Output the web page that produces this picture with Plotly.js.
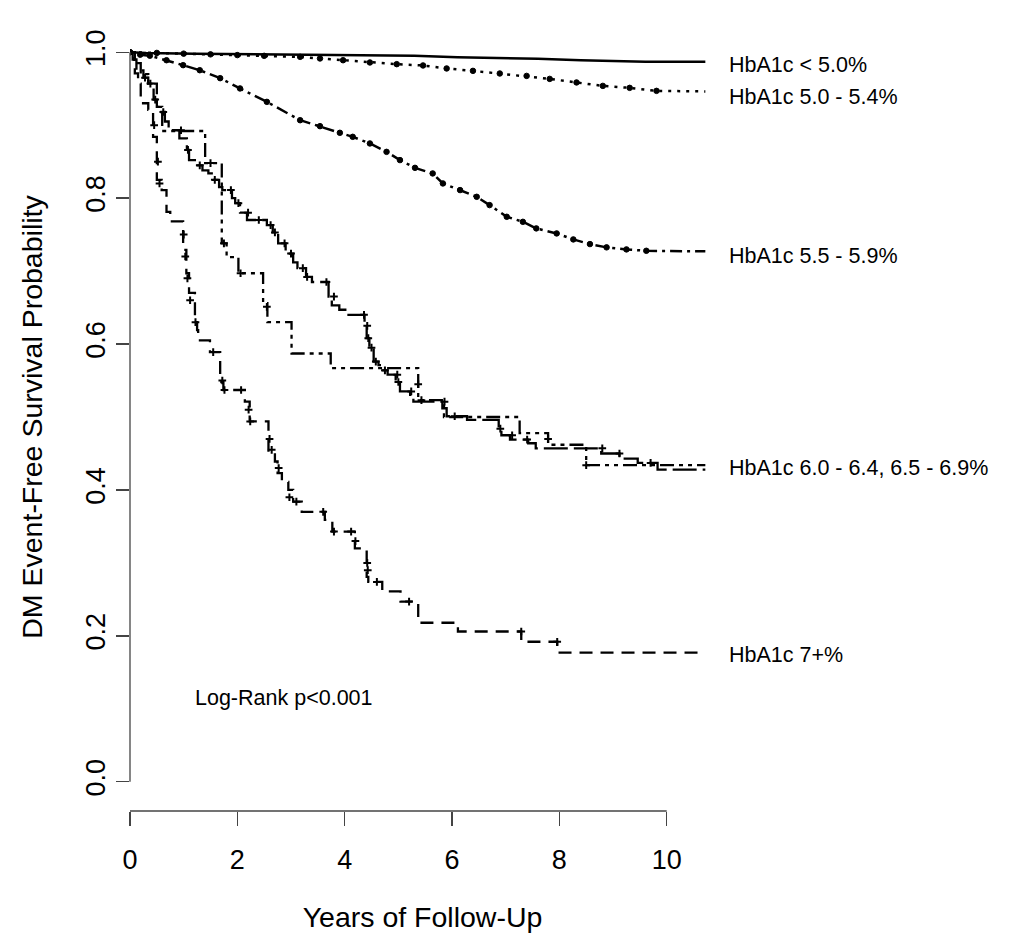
<!DOCTYPE html>
<html>
<head>
<meta charset="utf-8">
<script src="https://cdn.plot.ly/plotly-3.0.1.min.js"></script>
<style>
  body { margin: 0; background: #fff; }
  #kmChart { width: 1012px; height: 952px; }
</style>
</head>
<body>
<div id="kmChart"></div>
<script>
// Kaplan-Meier curves, DM event-free survival by HbA1c group
const groupLabels = ['HbA1c < 5.0%', 'HbA1c 5.0 - 5.4%', 'HbA1c 5.5 - 5.9%', 'HbA1c 6.0 - 6.4, 6.5 - 6.9%', 'HbA1c 7+%'];
const labelY = [0.982, 0.939, 0.72, 0.430, 0.174];

const xTicks = [0, 2, 4, 6, 8, 10];
const yTicks = [0, 0.2, 0.4, 0.6, 0.8, 1.0];
const yTickText = ['0.0', '0.2', '0.4', '0.6', '0.8', '1.0'];

// HbA1c < 5.0%
const g1Years = [0, 0.3, 1.2, 2.5, 3.97, 5.3, 6.1, 6.95, 7.6, 8.4, 9.0, 9.6, 10.72];
const g1Surv = [1.0, 0.999, 0.998, 0.997, 0.996, 0.995, 0.993, 0.992, 0.991, 0.989, 0.988, 0.987, 0.987];

// HbA1c 5.0 - 5.4%
const g2Years = [0, 0.5, 1.0, 1.5, 2.0, 2.5, 3.17, 3.54, 3.97, 4.47, 4.97, 5.46, 5.90, 6.39, 6.89, 7.39, 7.82, 8.32, 8.81, 9.31, 9.81, 10.72];
const g2Surv = [1.0, 0.999, 0.998, 0.997, 0.996, 0.995, 0.9936, 0.9914, 0.989, 0.9859, 0.9836, 0.9818, 0.9777, 0.9744, 0.9708, 0.9675, 0.9634, 0.9585, 0.9538, 0.9511, 0.947, 0.9462];

// HbA1c 5.5 - 5.9%
const g3Years = [0, 0.19, 0.37, 0.68, 0.99, 1.30, 1.68, 2.05, 2.55, 3.17, 3.54, 3.91, 4.15, 4.47, 4.78, 5.03, 5.31, 5.64, 5.83, 6.15, 6.46, 6.70, 7.02, 7.32, 7.57, 7.95, 8.26, 8.57, 8.88, 9.25, 9.62, 10.72];
const g3Surv = [1.0, 0.9966, 0.9952, 0.989, 0.9822, 0.9753, 0.9644, 0.9503, 0.9319, 0.9068, 0.8986, 0.8895, 0.884, 0.8749, 0.8634, 0.8521, 0.8415, 0.8338, 0.8201, 0.811, 0.8018, 0.7904, 0.7744, 0.7675, 0.7585, 0.7516, 0.7434, 0.737, 0.7325, 0.7297, 0.7278, 0.727];

// HbA1c 6.0 - 6.4%
const g4Years = [0, 0.05, 0.12, 0.25, 0.34, 0.44, 0.50, 0.56, 0.65, 0.72, 0.92, 1.06, 1.10, 1.26, 1.35, 1.46, 1.55, 1.66, 1.72, 1.90, 1.96, 2.05, 2.18, 2.55, 2.66, 2.76, 2.90, 3.04, 3.12, 3.28, 3.39, 3.70, 3.76, 3.90, 4.04, 4.37, 4.41, 4.46, 4.54, 4.63, 4.71, 4.80, 4.95, 5.03, 5.22, 5.28, 5.82, 5.90, 6.28, 6.87, 6.92, 7.08, 7.42, 7.56, 8.78, 9.12, 9.46, 9.83, 10.72];
const g4Surv = [1.0, 0.99, 0.975, 0.965, 0.957, 0.935, 0.925, 0.918, 0.905, 0.893, 0.882, 0.866, 0.852, 0.845, 0.838, 0.834, 0.825, 0.815, 0.811, 0.800, 0.793, 0.780, 0.770, 0.763, 0.753, 0.738, 0.724, 0.712, 0.704, 0.692, 0.685, 0.665, 0.653, 0.647, 0.640, 0.625, 0.608, 0.595, 0.576, 0.571, 0.564, 0.558, 0.548, 0.535, 0.528, 0.521, 0.512, 0.501, 0.496, 0.484, 0.475, 0.469, 0.464, 0.457, 0.450, 0.443, 0.437, 0.428, 0.428];
const g4CensYears = [0.28, 0.47, 0.62, 0.95, 1.08, 1.30, 1.58, 1.88, 2.02, 2.20, 2.40, 2.62, 2.70, 2.88, 3.00, 3.22, 3.30, 3.66, 3.80, 4.36, 4.42, 4.44, 4.50, 4.58, 4.75, 4.98, 5.00, 5.24, 5.86, 6.05, 6.90, 7.12, 7.40, 8.80, 9.12, 9.70];
const g4CensSurv = [0.965, 0.935, 0.918, 0.893, 0.866, 0.845, 0.825, 0.811, 0.793, 0.780, 0.770, 0.763, 0.753, 0.738, 0.724, 0.704, 0.692, 0.685, 0.665, 0.640, 0.625, 0.608, 0.595, 0.576, 0.564, 0.558, 0.548, 0.535, 0.521, 0.501, 0.484, 0.475, 0.469, 0.457, 0.450, 0.437];

// HbA1c 6.5 - 6.9%
const g5Years = [0, 0.08, 0.20, 0.34, 0.50, 0.60, 1.40, 1.71, 1.80, 2.02, 2.48, 2.56, 3.01, 3.74, 5.37, 5.85, 7.26, 7.79, 8.50, 10.72];
const g5Surv = [1.0, 0.985, 0.97, 0.957, 0.925, 0.892, 0.848, 0.738, 0.719, 0.697, 0.656, 0.630, 0.587, 0.567, 0.523, 0.500, 0.478, 0.462, 0.434, 0.434];
const g5CensYears = [0.38, 1.50, 1.75, 2.06, 2.55, 5.37, 5.43, 7.79, 8.50];
const g5CensSurv = [0.957, 0.848, 0.738, 0.697, 0.651, 0.545, 0.523, 0.470, 0.434];

// HbA1c 7+%
const g6Years = [0, 0.09, 0.15, 0.20, 0.34, 0.43, 0.50, 0.59, 0.68, 0.75, 0.99, 1.05, 1.10, 1.21, 1.25, 1.27, 1.49, 1.68, 1.74, 2.14, 2.23, 2.58, 2.70, 2.75, 2.83, 2.95, 3.04, 3.20, 3.63, 3.77, 4.19, 4.41, 4.44, 4.70, 5.04, 5.37, 6.11, 7.29, 7.96, 10.72];
const g6Surv = [1.0, 0.971, 0.957, 0.930, 0.921, 0.884, 0.825, 0.811, 0.781, 0.768, 0.729, 0.697, 0.670, 0.637, 0.619, 0.605, 0.589, 0.548, 0.537, 0.521, 0.494, 0.452, 0.439, 0.423, 0.411, 0.400, 0.384, 0.370, 0.359, 0.343, 0.320, 0.281, 0.274, 0.261, 0.247, 0.218, 0.206, 0.192, 0.177, 0.177];
const g6CensYears = [0.45, 0.52, 0.55, 1.00, 1.03, 1.07, 1.12, 1.22, 1.55, 1.72, 1.76, 2.07, 2.21, 2.24, 2.60, 2.64, 2.77, 2.97, 3.10, 3.60, 3.80, 4.12, 4.20, 4.42, 4.43, 4.60, 5.20, 7.29, 7.96];
const g6CensSurv = [0.90, 0.85, 0.82, 0.75, 0.72, 0.69, 0.66, 0.63, 0.589, 0.55, 0.537, 0.537, 0.51, 0.494, 0.47, 0.455, 0.43, 0.39, 0.384, 0.37, 0.343, 0.343, 0.33, 0.30, 0.29, 0.274, 0.247, 0.206, 0.192];

const fontFamily = 'Arial, "Liberation Sans", sans-serif';
const ink = '#000';

function stepLine(x, y, dash) {
    return {
        x: x, y: y,
        type: 'scatter',
        mode: 'lines',
        line: { color: ink, width: 2.3, dash: dash, shape: 'hv' },
        hoverinfo: 'skip'
    };
}

function smoothLine(x, y, dash, withDots) {
    return {
        x: x, y: y,
        type: 'scatter',
        mode: withDots ? 'lines+markers' : 'lines',
        line: { color: ink, width: 2.5, dash: dash },
        marker: {
            color: ink,
            opacity: 1,
            size: x.map((v, i) => i === x.length - 1 ? 0 : 5.5),
            line: { color: ink, width: 1 }
        },
        hoverinfo: 'skip'
    };
}

// censoring ticks (small "+")
function censorMarks(x, y) {
    return {
        x: x, y: y,
        type: 'scatter',
        mode: 'markers',
        marker: { symbol: 'cross-thin', size: 5.5, color: ink, line: { color: ink, width: 2 } },
        hoverinfo: 'skip'
    };
}

const traces = [
    smoothLine(g1Years, g1Surv, 'solid', false),
    smoothLine(g2Years, g2Surv, '3px,6px', true),
    smoothLine(g3Years, g3Surv, '3px,5px,12px,5px', true),
    stepLine(g4Years, g4Surv, '24px,6px'),
    censorMarks(g4CensYears, g4CensSurv),
    stepLine(g5Years, g5Surv, '4px,5px,4px,5px,14px,5px'),
    censorMarks(g5CensYears, g5CensSurv),
    stepLine(g6Years, g6Surv, '13px,8px'),
    censorMarks(g6CensYears, g6CensSurv)
];

const xMax = 10.9;
const yMin = -0.04, yMax = 1.04;

// group labels to the right of the curves
const annotations = groupLabels.map((txt, i) => ({
    text: txt,
    xref: 'paper', yref: 'y',
    x: 1.0205, y: labelY[i],
    xanchor: 'left', yanchor: 'middle',
    showarrow: false,
    font: { family: fontFamily, size: 21.5, color: ink }
}));
annotations.push({
    text: 'Log-Rank p<0.001',
    xref: 'paper', yref: 'y',
    x: 0.1077, y: 0.115,
    xanchor: 'left', yanchor: 'middle',
    showarrow: false,
    font: { family: fontFamily, size: 21.5, color: ink }
});

// R-style axis lines that only span the tick range
const axisColor = '#444';
const shapes = [
    { type: 'line', xref: 'paper', yref: 'paper',
      x0: 0, x1: 0, y0: (0 - yMin) / (yMax - yMin), y1: (1 - yMin) / (yMax - yMin),
      line: { color: axisColor, width: 1.3 } },
    { type: 'line', xref: 'paper', yref: 'paper',
      x0: 0, x1: 10 / xMax, y0: 0, y1: 0,
      line: { color: axisColor, width: 1.3 } }
];

const layout = {
    width: 1012,
    height: 952,
    margin: { l: 130, r: 297, t: 23, b: 141 },
    paper_bgcolor: '#fff',
    plot_bgcolor: '#fff',
    showlegend: false,
    font: { family: fontFamily, color: ink },
    xaxis: {
        range: [0, xMax],
        tickvals: xTicks,
        ticks: 'outside',
        ticklen: 14,
        tickwidth: 1.3,
        tickcolor: axisColor,
        ticklabelstandoff: 11,
        tickfont: { family: fontFamily, size: 27, color: ink },
        showgrid: false,
        zeroline: false,
        showline: false,
        title: { text: 'Years of Follow-Up', font: { family: fontFamily, size: 28.5, color: ink }, standoff: 32 }
    },
    yaxis: {
        range: [yMin, yMax],
        tickvals: yTicks,
        ticktext: yTickText,
        tickangle: -90,
        ticks: 'outside',
        ticklen: 13,
        tickwidth: 1.3,
        tickcolor: axisColor,
        ticklabelstandoff: 0,
        tickfont: { family: fontFamily, size: 27, color: ink },
        showgrid: false,
        zeroline: false,
        showline: false,
        title: { text: 'DM Event-Free Survival Probability', font: { family: fontFamily, size: 28.5, color: ink }, standoff: 30 }
    },
    annotations: annotations,
    shapes: shapes
};

Plotly.newPlot('kmChart', traces, layout, { staticPlot: true, displayModeBar: false });
</script>
</body>
</html>
